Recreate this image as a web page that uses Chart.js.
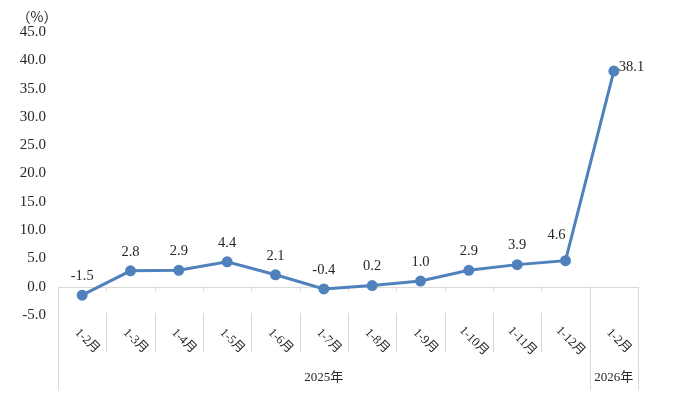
<!DOCTYPE html>
<html>
<head>
<meta charset="utf-8">
<script src="https://cdn.jsdelivr.net/npm/chart.js@4/dist/chart.umd.min.js"></script>
<style>
  html, body { margin: 0; padding: 0; background: #fff; }
  #wrap { width: 676px; height: 406px; }
</style>
</head>
<body>
<div id="wrap"><canvas id="lineChart" width="676" height="406"></canvas></div>
<script>
const months = ['1-2月', '1-3月', '1-4月', '1-5月', '1-6月', '1-7月', '1-8月', '1-9月', '1-10月', '1-11月', '1-12月', '1-2月']
const years = ['2025年', '2026年']
const yearSpans = [11, 1]
const growth = [-1.5, 2.8, 2.9, 4.4, 2.1, -0.4, 0.2, 1.0, 2.9, 3.9, 4.6, 38.1]
const unitLabel = '（%）'

const serif = '"Liberation Serif", "Times New Roman", "Noto Sans CJK SC", serif'
const textColor = '#262626'
const lineGray = '#d9d9d9'

// category axis drawn by hand: Excel-like two-level labels, rotated down-right
const axisPlugin = {
    id: 'axisPlugin',
    beforeDatasetsDraw(chart) {
        const ctx = chart.ctx
        const x = chart.scales.x
        const y = chart.scales.y
        const area = chart.chartArea
        const zeroY = y.getPixelForValue(0)
        const bottomY = y.getPixelForValue(-5)
        const step = x.getPixelForValue(1) - x.getPixelForValue(0)
        const edge = i => x.getPixelForValue(0) - step / 2 + step * i

        ctx.save()
        ctx.strokeStyle = lineGray
        ctx.lineWidth = 1
        ctx.beginPath()
        ctx.moveTo(area.left, Math.round(zeroY) + 0.5)
        ctx.lineTo(area.right, Math.round(zeroY) + 0.5)

        let outer = [0]
        let acc = 0
        for (let s of yearSpans) {
            acc += s
            outer.push(acc)
        }
        for (let i = 0; i <= months.length; i++) {
            const px = Math.round(edge(i)) + 0.5
            if (outer.includes(i)) {
                ctx.moveTo(px, zeroY)
                ctx.lineTo(px, bottomY + 75)
            } else {
                ctx.moveTo(px, zeroY)
                ctx.lineTo(px, zeroY + 5)
                ctx.moveTo(px, bottomY - 2)
                ctx.lineTo(px, bottomY + 37)
            }
        }
        ctx.stroke()

        ctx.fillStyle = textColor
        ctx.font = '12.5px ' + serif
        ctx.textAlign = 'center'
        ctx.textBaseline = 'middle'
        months.forEach((m, i) => {
            const cx = x.getPixelForValue(i)
            ctx.save()
            ctx.translate(cx + 5, bottomY + 26)
            ctx.rotate(Math.PI / 4)
            ctx.fillText(m, 0, 0)
            ctx.restore()
        })

        ctx.font = '13px ' + serif
        years.forEach((yr, k) => {
            const mid = (edge(outer[k]) + edge(outer[k + 1])) / 2
            ctx.fillText(yr, mid, bottomY + 63)
        })

        ctx.font = '14px "Noto Sans CJK SC", sans-serif'
        ctx.fillText(unitLabel, 37, 17)
        ctx.restore()
    },
    afterDatasetsDraw(chart) {
        const ctx = chart.ctx
        const meta = chart.getDatasetMeta(0)
        ctx.save()
        ctx.fillStyle = textColor
        ctx.font = '14.5px ' + serif
        ctx.textBaseline = 'middle'
        meta.data.forEach((pt, i) => {
            const label = growth[i].toFixed(1)
            ctx.textAlign = 'center'
            if (i === growth.length - 1) {
                ctx.textAlign = 'left'
                ctx.fillText(label, pt.x + 5, pt.y - 4)
            } else if (i === growth.length - 2) {
                // sits left of the steep segment, like the original
                ctx.fillText(label, pt.x - 9, pt.y - 25)
            } else {
                ctx.fillText(label, pt.x, pt.y - 19)
            }
        })
        ctx.restore()
    }
}

const config = {
    type: 'line',
    data: {
        labels: months,
        datasets: [{
            data: growth,
            borderColor: '#4f81bd',
            backgroundColor: '#4f81bd',
            borderWidth: 3,
            pointRadius: 4,
            pointHoverRadius: 4,
            tension: 0
        }]
    },
    options: {
        responsive: false,
        animation: false,
        layout: { padding: { top: 32, right: 38, bottom: 91, left: 0 } },
        plugins: {
            legend: { display: false },
            tooltip: { enabled: false }
        },
        scales: {
            x: {
                type: 'category',
                offset: true,
                display: false
            },
            y: {
                min: -5,
                max: 45,
                afterFit(scale) { scale.width = 58 },
                grid: { display: false },
                border: { display: false },
                ticks: {
                    stepSize: 5,
                    padding: 4,
                    color: textColor,
                    font: { family: serif, size: 15 },
                    callback: v => Number(v).toFixed(1)
                }
            }
        }
    },
    plugins: [axisPlugin]
}

new Chart(document.getElementById('lineChart'), config)
</script>
</body>
</html>
